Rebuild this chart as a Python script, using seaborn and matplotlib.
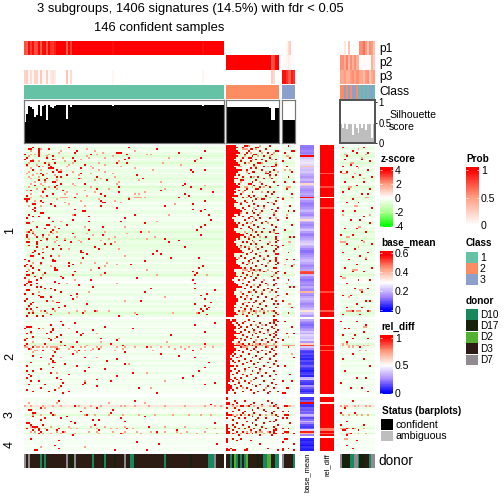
import numpy as np
import matplotlib
matplotlib.use('Agg')
import matplotlib.pyplot as plt
from matplotlib.colors import LinearSegmentedColormap, ListedColormap
import seaborn as sns

plt.rcParams['font.family'] = ['Liberation Sans', 'DejaVu Sans']

SIZE = 504

# ---- top annotation values, one per sample ----
left_p1 = [.75,.7,.95,.8,.95,.75,.75,.98,.7,.95,.98,.72,.98,.85,.82,.9,1,1,1,1,1,.68,.98,.8] + [1.0]*20 + [.95] + [1.0]*44 + [.95] + [1.0]*10
left_p2 = [0.0]*100
left_p3 = [.22,.25,.05,.18,.05,.22,.22,.02,.28,.05,.02,.25,.02,.12,.15,.1,0,0,0,0,0,.3,.02,.18] + [0.0]*20 + [.05] + [0.0]*44 + [.05] + [0.0]*10
mid_p1 = [0.0]*27
mid_p2 = [1.0]*23 + [.72,.78,.98,1.0]
mid_p3 = [0.0]*23 + [.25,.2,0.0,0.0]
small_p1 = [0,0,.05,.18,.25,.02,0]
small_p2 = [.02,.02,.05,.1,.05,.02,.02]
small_p3 = [.95,.95,.85,.72,.68,.92,.85]
right_p1 = [0,0,.12,0,.3,0,0,0,0,0,.55,.55,.65,.5,.3,.55,.5,.3]
right_p2 = [.55,.55,.42,.6,.35,.55,.4,.55,.4,.4,.02,.02,.02,.02,.02,.02,.4,.25]
right_p3 = [.45,.45,.5,.4,.4,.5,.55,.45,.55,.55,.45,.45,.35,.5,.55,.28,.45,.5]

left_class = [1]*100
mid_class = [2]*27
small_class = [3]*7
right_class = [2,2,3,2,3,2,3,3,2,3,1,3,1,3,1,3,3,1]

left_sil = [.51,.72,.9,.87,.83,.63,.69,.93,.67,.91,.93,.55,.93,.87,.85,.9,.93,.93,.93,.93,.93,.59,.93,.87] + [.93]*20 + [.91] + [.93]*44 + [.91] + [.93]*10
mid_sil = [.88]*22 + [.85,.55,.55,.85,.85]
small_sil = [.55,.55,.57,.57,.57,.55,.55]
right_sil = [.49,.36,.48,.33,.47,.46,.2,.46,.36,.24,.47,.36,.46,.31,.47,.46,.12,.47]

# donor: 0 D10, 1 D17, 2 D2, 3 D3, 4 D7
left_donor = [4,3,4,3,3,3,3,3,0,3,0,3,3,3,3,3,3,3,3,3,3,4,3,1,1,4,3,3,3,3,3,3,3,3,0,3,3,3,3,1,0,3,3,3,3,1,3,3,3,3,4,3,3,0,0,3,3,3,3,3,3,3,3,3,3,3,3,3,3,3,0,3,3,3,3,3,3,3,3,3,3,3,3,1,3,3,3,3,3,3,3,3,0,0,0,4,3,3,3,3]
mid_donor = [3,3,0,1,2,0,3,0,3,0,2,3,3,3,3,3,1,3,3,0,0,2,2,3,3,0,0]
small_donor = [4,3,3,3,3,3,0]
right_donor = [4,1,1,1,1,0,0,4,4,0,1,1,1,3,3,0,4,4]

# ---- row annotations ----
base_mean_1 = [.13,.12,.13,.14,.13,.15,.58,.22,.24,.25,.26,.24,.38,.22,.21,.22,.2,.18,.16,.18,.2,.16,.35,.22,.18,.16,.14,.16,.18,.16,.57,.2,.16,.14,.13,.14,.16,.18,.2,.16,.14,.18,.21,.34,.2,.16,.14,.16,.19,.22,.17,.14,.13,.16,.18,.2,.22,.24,.21,.18,.14,.12,.12,.14,.16,.18,.2,.21,.18,.16,.14,.16,.18,.5,.52,.2,.16,.14,.12,.14,.16,.14,.18,.16,.14,.4,.16,.14,.18,.21,.18,.16,.14,.16,.18,.2,.33,.22,.2,.16]
base_mean_2 = [.18,.16,.13,.11,.13,.15,.17,.22,.18,.24,.22,.2,.24,.16,.36,.52,.22,.16,.08,.06,.08,.05,.07,.04,.08,.05,.06,.1,.07,.05,.03,.06,.08,.04,.2,.22,.08,.06,.05,.16,.1,.06,.04,.08]
base_mean_3 = [.06,.05,.1,.58,.06,.05,.1,.09,.12,.1,.2,.16,.08,.12,.2,.14,.08,.06,.1,.24,.55,.4,.14]
base_mean_4 = [.04,.03,.05,.04,.02,.05,.04,.03]
rel_diff_1 = [1.0]*16 + [.85] + [1.0]*7 + [.88] + [1.0]*5 + [.55] + [1.0]*5 + [.85] + [1.0]*48 + [.88] + [1.0]*10 + [.85] + [1.0]*3
rel_diff_2 = [1.0]*15 + [.85,1.0,1.0,.85] + [1.0]*25
rel_diff_3 = [1.0,1.0,1.0,.55] + [1.0]*14 + [.8,.8,1.0,.85,1.0]
rel_diff_4 = [1.0]*8

# row stripe level of the z-score background (0 white .. 3 green, 5 pinkish)
stripe_1 = [1,2,2,1,2,2,3,2,1,2,3,2,2,1,2,2,1,2,2,3,2,2,1,2,3,2,2,2,1,2,3,2,2,1,1,2,1,1,2,2,1,2,1,1,2,2,2,1,2,2,3,2,2,2,3,2,2,2,3,2,2,2,1,2,2,1,2,2,1,2,2,2,1,2,2,3,2,1,1,0,1,2,1,1,2,1,2,2,1,1,2,2,1,2,2,1,2,3,2,2]
stripe_2 = [1,2,1,1,1,2,1,1,2,1,2,2,1,1,3,5,2,1,1,1,2,1,1,1,2,1,1,2,1,1,1,2,1,1,1,2,1,1,2,1,1,1,1,1]
stripe_3 = [1,1,1,1,1,5,2,1,1,1,3,1,1,1,1,1,1,2,3,1,1,3,1]
stripe_4 = [1,1,1,1,0,1,1,1]

# ---- z-score heatmap, sparse cells as {row: [columns]} ----
left1_red = {1:[4,22,52],2:[2,3,7,12,66],3:[7,26,90],4:[7,25,46,47,48,77],5:[0,7,33,51],6:[7,14],7:[1,11,24,52,88],8:[0,14,50],9:[3,4,25,85],10:[10,15,46,51],11:[1,12,30],12:[7,13],13:[12,13,14,28],14:[4,16,83,90],15:[14,17,18,84],16:[8,28],17:[9,21,56],18:[16,18,36],19:[11,27,59],20:[7,10,41],21:[14,15],22:[18,30,80],23:[5,16,79],24:[15,47,83],25:[10,36,88],26:[3,19,68],27:[9,47,94],28:[14,38,80],29:[1,11,40,82],30:[25,77],31:[0,1,2,52],32:[1,8,38,90],33:[9,39,40],34:[4,5,13,84],35:[15,38,70],36:[5,46],37:[4,25,84,90],38:[5,29,30,88],39:[8,9],40:[2,25,55,92],41:[4,7,32],42:[1,12,50],43:[24,93],44:[14,32,48],45:[1,2,60],46:[11,12,21,90],47:[6,39,88],48:[10,17],49:[3,14,32,86],50:[2,13,58],51:[4,24],52:[1,9,39,88],53:[1,6,16],54:[11,32,70],55:[8,20,77],56:[1,2,6,23,72],57:[6,40,43],58:[2,17],59:[6,11,35,80],60:[14,18,37],61:[5,28,66],62:[4,9,28,29],63:[7,31,64,68],64:[3,4,13],65:[9,29,73,87],66:[0,14],67:[2,14,15,60],68:[8,22],69:[1,24,53],70:[0,3,22,89],71:[4,15,37,87],72:[7,15,16],73:[1,25,84],74:[4,10,40,86],75:[1,2,24,85],76:[5,18],77:[0,8,19,56],78:[6,33,84],79:[2,3,15],80:[1,6,17,85],81:[0,3,27],82:[6,8,34],83:[10,13,63,85],84:[1,2,15,95],85:[18,60],86:[0,4,26,91],87:[7,23,88],88:[8,9,13],89:[1,24,90],90:[0,11,58],91:[4,16,17,93],92:[3,31,85],93:[2,20,90],94:[6,17,92],95:[1,3,14,88,91],96:[10,35,89],97:[2,4,29,87],98:[13,56,91],99:[1,6,9,47]}
left1_pale = {2:[8,31],3:[3,18,35,55],4:[17,39],5:[3,5,12,36,61,63],6:[2,11,31,44],7:[19,32,40,72],8:[4,15,28,86],9:[7,20,47],10:[2,12,24,37,69],11:[6,22,40,78],12:[1,9,21,33,48],13:[3,34,55],14:[8,18,37,64],15:[2,24,40],16:[1,6,11,33,44],17:[4,15,27],18:[2,7,45],19:[3,28,38],20:[16,35,57],21:[5,10,47,68],22:[3,8,24,46],23:[9,25,90],24:[2,12,33],25:[6,16,42,70],26:[1,9,30],27:[21,35,60],28:[3,20,26,55,57],29:[8,31],30:[3,9,18,19,20,21,52,55,56,57,58,60],31:[16,37],32:[5,28,45],33:[1,20,48],34:[22,75],35:[2,8,30],40:[24,72],44:[4,18,66],47:[15,30,50],50:[1,4,16,40,62],51:[14,31,51],52:[5,12,34],53:[9,25,45,65],54:[2,20,42,61],55:[11,16,27,38],56:[15,28,45],60:[9,22,47],64:[17,50],68:[4,28,35,41],69:[8,46],70:[13,40],72:[2,33,61],75:[9,38,66,91],78:[2,25],80:[21,46],85:[7,32],88:[26,70],90:[14,50],96:[4,8,15,26,30,36,42],97:[11,22,55,74,86]}
left2_red = {1:[18],2:[25,95],3:[13,19,85],4:[1,2,3,40],5:[0,7,14,54],6:[14,34],7:[3,13,26,90],8:[1,11,29],9:[18,28,73],10:[4,16],11:[1,12,38],12:[0,13,46],13:[18,26],14:[1,10,43,90],15:[0,20,49],16:[4,24,61],17:[2,16,37],18:[9,27,84],19:[15,50],20:[24,68],21:[4,14,77],22:[8,30,85],23:[13,46],24:[14,41],25:[3,14,15,92],26:[20,50],27:[1,26],28:[14,32,90],29:[8,40],30:[1,4,30,87],31:[13,54],32:[2,22],33:[3,46,84],34:[1,16,79],35:[18,36],36:[3,7,43],37:[19,30,95],38:[2,10,29,90],39:[18,36],40:[8,57],41:[1,15],42:[4,12,22],43:[19,66]}
left2_pale = {5:[9,22],8:[3,36],11:[15,47],13:[4,38,71],15:[5,18,31],16:[0,1,6,7,9,11,13,14,15,16,23,28,30,36,38,46,50,55,63,68,72,78,82,90,94],17:[3,17,22,34,37,49,75,80,88],18:[5,6,14,25,30,33,45,64],19:[4,26],22:[18,36],26:[12,52],31:[16,61],36:[30,70],40:[17,63]}
left3_red = {2:[17,55],4:[93],5:[25],6:[8,36],7:[2,3,44],8:[28],9:[4,5,13,43],10:[14,31],11:[4,21,60],12:[10,18,48],13:[8,34,37],14:[23,50],15:[1,2,25,95],16:[3,9,35],17:[4,5,6,62],18:[1,7,17,51],19:[4,7,11,16,37,76],20:[8,19,66],21:[7,48],22:[24]}
left3_pale = {3:[2,16,42,60],5:[0,3,9,14,18,25,27,33,38,48,50,55,62,70,80,90,95,98],6:[10,30],10:[4,8,15,30,35,42,49,57,65,74,82,88,93],17:[3,13,22,33,40,50,62,70,80],18:[5,10,23,26,36,43,46,54,91,95],20:[3,5,16,20,32,36,44,50,56,63,70,76,81,90],21:[9,13,18,25,37,49,58,66,78,86,96]}
left4_red = {0:[3],1:[17],2:[56],3:[67,96],4:[15],6:[17],7:[5,6,45,61]}
left4_pale = {5:[8,30]}

mid1_block = [5,6,5,6,7,5,6,5,4,5,6,6,4,5,7,6,5,5,4,6,4,4,5,6,7,5,4,5,4,6,3,4,5,6,4,4,5,7,8,7,4,5,3,4,4,5,6,6,4,4,5,7,8,7,5,5,4,5,5,6,6,8,8,4,4,5,6,5,5,6,7,8,4,4,5,5,6,4,3,4,5,6,7,5,5,4,4,5,5,6,6,5,5,4,5,4,4,5,6,4]
mid2_block = [2,3,3,4,5,5,4,5,6,4,5,6,4,3,4,6,4,5,5,4,3,2,2,3,2,2,2,3,2,2,3,2,2,2,2,3,2,1,2,3,3,2,1,1]
mid3_block = [1,1,0,2,2,0,1,0,0,1,2,0,1,0,0,0,1,1,2,1,2,2,0]
mid4_block = [1,1,1,0,0,0,1,1]
mid1_red = {0:[9,10,22],1:[8,15,16],2:[12,13,20],3:[11,17,25,26],4:[10,21],5:[9,14,15,23],6:[13,19],7:[8,11,12,22],8:[15,18,25],9:[7,12,20],10:[9,16,17],11:[6,14,25],12:[19,23,24],13:[12,15],14:[7,10,18,24],15:[13,14,22],16:[11,20,21],17:[6,22,25],18:[8,12,16],19:[19,23],20:[7,8,15],21:[13,24],22:[6,11,12,18],23:[14,20,26],24:[17,22],25:[10,15,16],26:[6,9],27:[13,21,24],28:[7,23],29:[11,14,20],30:[8,12,26],31:[15,18,19],32:[9,13,25],33:[10,21],34:[7,14,24],35:[11,16,19],36:[8,26],37:[9,15,23],38:[13,18,25],39:[10,14],40:[6,16,24],41:[8,12,13],42:[11,17,22],43:[9,15,26],44:[13,20],45:[6,10,18],46:[8,14,23],47:[11,16,25],48:[7,12,19],49:[13,24],50:[15,18,22],51:[10,25,26],52:[8,12,16],53:[9,14,20,25],54:[6,11,25],55:[13,17,26],56:[8,10,25],57:[12,15,21],58:[7,23,25],59:[9,18,26],60:[6,11,16,25],61:[13,20,24],62:[8,12],63:[10,15,25,26],64:[7,17,21],65:[9,14,25],66:[12,19,25],67:[11,16,22,25],68:[8,13,26],69:[10,18,25],70:[15,20],71:[9,12,24,25],72:[14,17],73:[11,19,26],74:[8,13,25],75:[10,16],76:[7,12,23],77:[9,15,26],78:[6,14,24],79:[11,18],80:[8,20,25],81:[10,17,24],82:[7,12,16],83:[9,21,26],84:[14,19,23],85:[11,15,25],86:[8,18],87:[10,13,26],88:[7,16,20],89:[9,12,23],90:[15,19,25],91:[11,14],92:[8,17,24,26],93:[10,13,20],94:[7,16,25],95:[9,12,18],96:[6,14,24],97:[11,19,25],98:[8,13,26],99:[10,16,24]}
mid1_pale = {0:[11,17],2:[8,9,10,15],4:[12,18,24],6:[9,16,22],8:[7,13,23],10:[11,18,25],12:[6,7,14,15,21,25],15:[10,20,26],18:[14,22],21:[7,17],24:[9,10,13,19],27:[8,18],30:[10,16,22],33:[7,23],36:[14,19],39:[7,17,24],42:[14,25],45:[12,21],50:[9,13,24],53:[11,17],56:[14,22],59:[7,11,15],62:[17,24],65:[6,19],68:[11,21],72:[8,9,10,12,13,16,21],73:[15,17,20,23],75:[13,24],78:[8,19],81:[14,21],85:[7,12,18,22],88:[10,25],91:[9,18],96:[6,8,9,12,15,17,19,21,23],97:[8,15]}
mid2_red = {0:[3,4,11,24,25],1:[3,4,9,14,24,26],2:[5,8,17,22,24],3:[6,12,20,25],4:[7,10,16,23],5:[6,13,18,24],6:[9,14,21,26],7:[7,11,17,25],8:[6,15,19,24],9:[8,13,22,25],10:[10,16,24],11:[7,12,20,26],12:[9,18,23],13:[6,14,21,25],14:[8,11,17],15:[6,9,13],16:[7,15,20,25],17:[10,14,23],18:[6,12,18,24],19:[8,16,22],20:[4,11,20,25],21:[3,7,15,24],22:[5,13,18],23:[9,17,22],24:[3,6,12,25],25:[4,10,16,21],26:[8,14,24],27:[3,5,19,26],28:[11,15,22],29:[4,9,17],30:[6,13,24],31:[5,16,20],32:[3,8,12,25],33:[10,18,22],34:[4,7,15],35:[5,14,24],36:[3,9,19],37:[6,11,23],38:[4,13,17,25],39:[7,15,21],40:[5,10,24],41:[3,12,19],42:[8,16,22,26],43:[4,14,21]}
mid2_pale = {3:[15,18],7:[14,21],12:[7,15],14:[5,6,7,13,15,16,19,20,24],15:[5,7,8,10,11,12,14,15,16,17,18,20,21,22,23,24,25],16:[8,9,10,21],18:[15,20],22:[6,22],30:[9,17],36:[6,12],40:[8,20]}
mid3_red = {2:[4,9,21],3:[5,14,23],4:[3,12,18,25],5:[7,8,11,24],6:[4,16,26],7:[6,13,19],8:[3,9,20,24],9:[8,14,23],10:[2,7,11,17,25],11:[4,13,26],12:[6,9,16,20],13:[3,15,25],14:[10,22,24],15:[5,13,19],16:[3,8,15,26],17:[4,11,18,24],18:[6,9,14,20,25],19:[3,12,17,24,25],20:[5,8,15,22,24],21:[3,10,13,24,25],22:[6,17,23]}
mid3_pale = {5:[3,5,10,14,18,22,25],10:[3,5,9,13,20,23],20:[10,12,17,18,21],21:[4,7,11,15,19,22]}
mid4_red = {0:[3,7],1:[5,12],3:[17],6:[2,10,21],7:[1,3,4,9,10,26]}
mid4_pale = {}
small1_red = {0:[3],3:[5,6],4:[1],7:[4],9:[0],12:[2],15:[5],18:[3],21:[1,6],25:[2],28:[5],31:[0],35:[4],38:[3,6],42:[2],46:[5],49:[1],53:[4,6],58:[0],62:[3],66:[2,6],70:[5],74:[1],78:[3],82:[4,6],86:[2],90:[0],94:[5],97:[3]}
small1_pale = {6:[2,3],14:[1,4],24:[2,3,4],30:[0,5],40:[2],56:[3,4],69:[1,6],80:[2],92:[3,4]}
small2_red = {1:[1],4:[5],8:[2,6],12:[0],16:[3],22:[6],27:[1],32:[4],36:[0,5],40:[2,3],43:[0,1]}
small2_pale = {10:[3],15:[0,1,2,3,4,5,6],20:[5]}
small3_red = {5:[1,2],8:[0,3],10:[1,2,3],12:[0,2],15:[4],18:[0,3],20:[1,2,3],21:[0,6]}
small3_pale = {5:[3,4],21:[2,3]}
small4_red = {0:[1,2],2:[0],3:[6],6:[0,3],7:[0,6]}
small4_pale = {}
right1_red = {1:[1,12],3:[6],4:[8,14],6:[3],8:[2,11],9:[15],11:[5],12:[1,8],14:[14],15:[0,3],17:[10],18:[6,16],21:[2,12],23:[8],25:[4,15],27:[1],28:[11,14],31:[6],33:[3,9],36:[16],38:[1,7],41:[12],43:[5,10],45:[15],48:[2,8],50:[13],52:[0,6],55:[11],57:[3,16],60:[7],62:[1,14],64:[10],66:[4,13],69:[8],71:[2,16],73:[6,12],76:[0],78:[9,15],80:[3],83:[7,14],85:[11],87:[1,5],90:[13,15],92:[8],94:[3,11],96:[6,14],98:[1,10]}
right1_pale = {2:[9],5:[2,3,13],7:[11],10:[5,6],13:[9],16:[1,2,3,7],19:[12],24:[4,5],30:[13,14],35:[7,8],40:[1,15],47:[9,10],53:[3,4],56:[0,1,2,12],59:[9],65:[13],72:[6,7,8],77:[1,2],84:[10,11],88:[4],96:[3,4,5,8,9,10,15]}
right2_red = {1:[0,8],3:[13],5:[2,4],7:[12],9:[1,7],11:[6,14],13:[3],16:[10],20:[6],23:[1,12],27:[15],30:[2],34:[8,13],37:[0],40:[5,11],42:[14]}
right2_pale = {4:[12,13],14:[1,3],15:[1,4,6,8,9,12,14],16:[4,6],18:[10,13]}
right3_red = {2:[6],6:[2],9:[0,7],14:[3],16:[0,12],18:[3,6],19:[1,2,9],21:[5],22:[3]}
right3_pale = {5:[0,2,3,7,9,13,15],10:[1,4,8,11,14],18:[0,1,2,4,7,12],21:[3,4,9,13]}
right4_red = {1:[8],4:[3],6:[6]}
right4_pale = {0:[2,3]}

class_colors = ['#66c2a5', '#fc8d62', '#8da0cb']
donor_names = ['D10', 'D17', 'D2', 'D3', 'D7']
donor_colors = ['#17885e', '#16220c', '#54b030', '#2d1c14', '#918a90']

z_cmap = LinearSegmentedColormap.from_list('z', [(0, '#00ff00'), (.25, '#acff8f'), (.5, '#ffffff'), (.75, '#ff9e81'), (1, '#ff0000')])
prob_cmap = LinearSegmentedColormap.from_list('prob', ['#ffffff', '#ff9e81', '#ff0000'])
bwr_cmap = LinearSegmentedColormap.from_list('bwr2', ['#0000ff', '#a98bff', '#ffffff', '#ff9e81', '#ff0000'])
level_z = {0: 0.0, 1: -.22, 2: -.5, 3: -.8, 5: .5}

fig = plt.figure(figsize=(7, 7), dpi=72)


def new_ax(x0, y0, x1, y1):
    return fig.add_axes([x0 / SIZE, 1 - y1 / SIZE, (x1 - x0) / SIZE, (y1 - y0) / SIZE])


def heat(box, data, cmap, vmin, vmax):
    ax = new_ax(*box)
    sns.heatmap(np.asarray(data, dtype=float), cmap=cmap, vmin=vmin, vmax=vmax, cbar=False,
                xticklabels=False, yticklabels=False, ax=ax)
    return ax


def zmatrix(stripes, n_cols, red, pale, block=None):
    m = np.array([[level_z[s]] * n_cols for s in stripes])
    for r, cols in pale.items():
        m[r, cols] = 1.9
    for r, cols in red.items():
        m[r, cols] = 4
    if block is not None:
        for r, w in enumerate(block):
            m[r, :w] = 4
    return m


col_spans = [(24, 224), (226, 279), (282, 295), (340, 375)]
p1s = [left_p1, mid_p1, small_p1, right_p1]
p2s = [left_p2, mid_p2, small_p2, right_p2]
p3s = [left_p3, mid_p3, small_p3, right_p3]
classes = [left_class, mid_class, small_class, right_class]
donors = [left_donor, mid_donor, small_donor, right_donor]
sils = [left_sil, mid_sil, small_sil, right_sil]

for i, (x0, x1) in enumerate(col_spans):
    heat((x0, 41, x1, 55.5), [p1s[i]], prob_cmap, 0, 1)
    heat((x0, 55.5, x1, 70), [p2s[i]], prob_cmap, 0, 1)
    heat((x0, 70, x1, 84), [p3s[i]], prob_cmap, 0, 1)
    heat((x0, 85, x1, 99), [classes[i]], ListedColormap(class_colors), .5, 3.5)
    heat((x0, 454, x1, 468), [donors[i]], ListedColormap(donor_colors), -.5, 4.5)

    # silhouette bars
    ax = new_ax(x0, 100, x1, 143)
    bar_color = '#bebebe' if i == 3 else 'black'
    sns.barplot(x=list(range(len(sils[i]))), y=sils[i], color=bar_color, saturation=1, width=1.0,
                linewidth=0, ax=ax)
    ax.set_xlim(-.5, len(sils[i]) - .5)
    ax.set_ylim(0, 1.05)
    ax.set_xticks([])
    ax.set_yticks([])
    ax.set_xlabel('')
    ax.set_ylabel('')
    for sp in ax.spines.values():
        sp.set_color('#555555' if i == 3 else '#777777')
        sp.set_linewidth(2 if i == 3 else 1.2)
    if i == 3:
        ax.axhline(.5, color='white', lw=1, ls=(0, (3, 1)))
        ax.yaxis.tick_right()
        ax.set_yticks([0, .5, 1])
        ax.set_yticklabels(['0', '0.5', '1'], fontsize=9.5)
        ax.tick_params(axis='y', length=2, pad=1.5, width=.8)

slices = [
    (145, 317, stripe_1, left1_red, left1_pale, mid1_block, mid1_red, mid1_pale, small1_red, small1_pale, right1_red, right1_pale),
    (319, 394, stripe_2, left2_red, left2_pale, mid2_block, mid2_red, mid2_pale, small2_red, small2_pale, right2_red, right2_pale),
    (397, 436, stripe_3, left3_red, left3_pale, mid3_block, mid3_red, mid3_pale, small3_red, small3_pale, right3_red, right3_pale),
    (438, 451, stripe_4, left4_red, left4_pale, mid4_block, mid4_red, mid4_pale, small4_red, small4_pale, right4_red, right4_pale),
]
for y0, y1, st, lr, lp, mb, mr, mp, sr, sp_, rr, rp in slices:
    heat((24, y0, 224, y1), zmatrix(st, 100, lr, lp), z_cmap, -4, 4)
    heat((226, y0, 279, y1), zmatrix(st, 27, mr, mp, mb), z_cmap, -4, 4)
    heat((282, y0, 295, y1), zmatrix(st, 7, sr, sp_), z_cmap, -4, 4)
    heat((340, y0, 375, y1), zmatrix(st, 18, rr, rp), z_cmap, -4, 4)

base_means = [base_mean_1, base_mean_2, base_mean_3, base_mean_4]
rel_diffs = [rel_diff_1, rel_diff_2, rel_diff_3, rel_diff_4]
for (y0, y1, *_), bm, rd in zip(slices, base_means, rel_diffs):
    heat((300, y0, 314, y1), np.array(bm)[:, None], bwr_cmap, 0, .58)
    heat((320, y0, 334, y1), np.array(rd)[:, None], bwr_cmap, 0, 1)


def text(x, y, s, **kw):
    kw.setdefault('va', 'center')
    fig.text(x / SIZE, 1 - y / SIZE, s, **kw)


text(190.5, 9, '3 subgroups, 1406 signatures (14.5%) with fdr < 0.05', ha='center', fontsize=13)
text(159, 28, '146 confident samples', ha='center', fontsize=13)
for lab, y in zip(['p1', 'p2', 'p3', 'Class'], [49, 63, 77, 92]):
    text(379, y, lab, fontsize=12)
text(378, 461, 'donor', fontsize=13.5)
text(389, 115, 'Silhouette', fontsize=10.5)
text(389, 127, 'score', fontsize=10.5)
for lab, y in zip(['1', '2', '3', '4'], [231, 357, 415, 444]):
    text(10, y, lab, rotation=90, ha='center', fontsize=12.5)
text(307, 453, 'base_mean', rotation=90, ha='center', va='top', fontsize=7.5)
text(327, 453, 'rel_diff', rotation=90, ha='center', va='top', fontsize=7.5)


def gradient(box, cmap, top, bottom, ticks, labels, vmin, vmax):
    ax = heat(box, np.linspace(top, bottom, 80)[:, None], cmap, vmin, vmax)
    ax.set_yticks([(top - t) / (top - bottom) * 80 for t in ticks])
    ax.set_yticklabels(labels, rotation=0, fontsize=10.5)
    ax.tick_params(axis='y', direction='in', left=True, right=True, labelleft=False, labelright=True,
                   color='white', length=2, width=.7, pad=2)


text(381, 159, 'z-score', fontsize=10, fontweight='bold')
gradient((380, 167, 393, 227), z_cmap, 4.43, -4.14, [4, 2, 0, -2, -4], ['4', '2', '0', '-2', '-4'], -4, 4)
text(381, 243, 'base_mean', fontsize=10, fontweight='bold')
gradient((380, 251, 393, 312), bwr_cmap, .62, -.02, [.6, .4, .2, 0], ['0.6', '0.4', '0.2', '0'], 0, .58)
text(381, 327, 'rel_diff', fontsize=10, fontweight='bold')
gradient((380, 335, 393, 394), bwr_cmap, 1.05, -.02, [1, .5, 0], ['1', '0.5', '0'], 0, 1)
text(466, 159, 'Prob', fontsize=10, fontweight='bold')
gradient((466, 167, 479, 227), prob_cmap, 1.05, -.03, [1, .5, 0], ['1', '0.5', '0'], 0, 1)


def squares(x, y, names, colors, h, fs=10.5):
    for k, (n, c) in enumerate(zip(names, colors)):
        ax = new_ax(x, y + k * h, x + 12, y + (k + 1) * h - .6)
        ax.set_facecolor(c)
        ax.set_xticks([])
        ax.set_yticks([])
        for sp in ax.spines.values():
            sp.set_visible(False)
        text(x + 14, y + (k + .5) * h, n, fontsize=fs)


text(466, 243, 'Class', fontsize=10, fontweight='bold')
squares(466, 252, ['1', '2', '3'], class_colors, 11.2)
text(466, 301, 'donor', fontsize=10, fontweight='bold')
squares(466, 309, donor_names, donor_colors, 11.4, fs=10)
text(382, 411, 'Status (barplots)', fontsize=10, fontweight='bold')
squares(381, 419, ['confident', 'ambiguous'], ['black', '#bebebe'], 11.5)

fig.savefig('out.png', dpi=72)
